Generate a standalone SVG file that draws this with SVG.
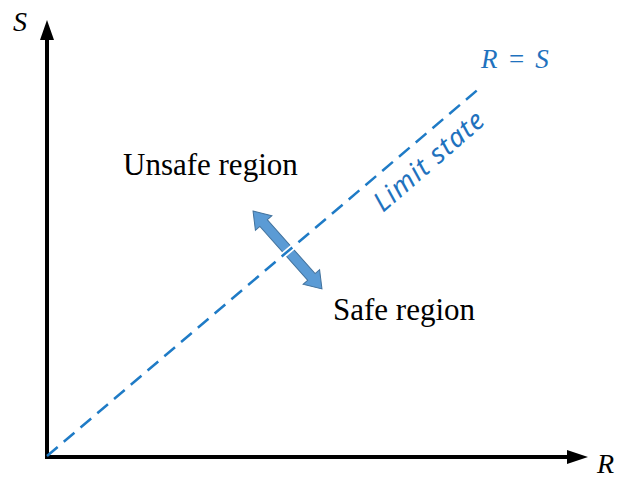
<svg xmlns="http://www.w3.org/2000/svg" width="617" height="478" viewBox="0 0 617 478">
<style>
.lbl{font-family:"Liberation Serif",serif;font-size:31px;fill:#000}
.ax{font-family:"Liberation Serif",serif;font-style:italic;font-size:28px;fill:#000}
.blue{fill:#1f72be}
</style>
<rect width="617" height="478" fill="#fff"/>
<g id="axes">
<line x1="47" y1="459" x2="47" y2="38" stroke="#000" stroke-width="4"/>
<polygon points="47,20 40,40 54,40" fill="#000"/>
<line x1="45" y1="457" x2="570" y2="457" stroke="#000" stroke-width="4"/>
<polygon points="588,457 567,450 567,464" fill="#000"/>
</g>
<g id="region-arrow">
<polygon transform="translate(287.5,250) rotate(48.5)" points="-52,0 -36,-11 -36,-5 36,-5 36,-11 52,0 36,11 36,5 -36,5 -36,11" fill="#5b9bd5" stroke="#41719c" stroke-width="1"/>
</g>
<g id="connectors">
<line x1="270" y1="266.5" x2="305" y2="236.7" stroke="#fff" stroke-width="6"/>
<line x1="47" y1="456" x2="481" y2="87" stroke="#1f7bc6" stroke-width="2.5" stroke-dasharray="14,8"/>
</g>
<g id="labels">
<text class="ax" x="13" y="31">S</text>
<text class="ax" x="597" y="473">R</text>
<text class="lbl" x="123" y="175">Unsafe region</text>
<text class="lbl" x="333" y="320">Safe region</text>
<text x="481" y="68" font-family="'Liberation Serif',serif" font-style="italic" font-size="27" word-spacing="3" class="blue">R = S</text>
<text transform="translate(383,213) rotate(-41)" font-family="'Noto Sans',sans-serif" font-style="italic" font-size="27" letter-spacing="1.2" class="blue">Limit state</text>
</g>
</svg>
